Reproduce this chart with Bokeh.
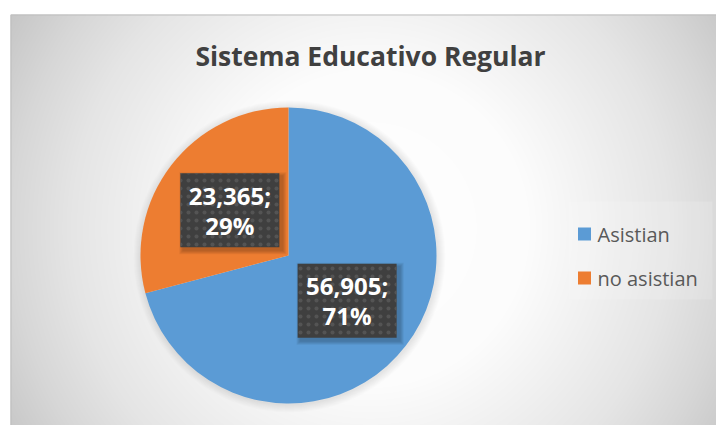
import numpy as np
from bokeh.plotting import figure
from bokeh.models import Range1d, ColumnDataSource
from bokeh.core.properties import value
from bokeh.embed import file_html
from bokeh.resources import INLINE

# ---- data ----
title_text = "Sistema Educativo Regular"
categories = ["Asistian", "no asistian"]
counts = [56905, 23365]
colors = ["#5B9BD5", "#ED7D31"]

W, H = 716, 425
p = figure(width=W, height=H, output_backend="svg", toolbar_location=None,
           x_range=Range1d(0, W), y_range=Range1d(0, H),
           min_border=0, background_fill_color="white", border_fill_color="white")
p.axis.visible = False
p.grid.visible = False
p.outline_line_color = None

def Y(page_y):
    return H - page_y

# ---- background radial gradient of chart area ----
x0, y0 = 10, 14
gw, gh = W - x0, H - y0
xs = np.arange(gw) + x0 + 0.5
ys = np.arange(gh) + y0 + 0.5
XX, YY = np.meshgrid(xs, ys)
d = np.hypot(XX - 370, YY - 228)
stops_d = [0, 160, 215, 300, 360, 420, 520]
stops_v = [255, 252, 243, 229, 215, 198, 188]
v = np.interp(d, stops_d, stops_v).astype(np.uint32)
img = (255 << 24) | (v << 16) | (v << 8) | v
img = img[::-1, :]  # row 0 = bottom
p.image_rgba(image=[img.view(np.uint32)], x=x0, y=0, dw=gw, dh=gh)
p.quad(left=x0 + 0.5, right=W + 40, top=Y(y0 + 0.5), bottom=-40,
       fill_color=None, line_color="#bdbdbd", line_width=1)

# ---- pie ----
cx, cy, R = 288, Y(255), 148
total = sum(counts)
fr = np.array(counts) / total
cum = np.concatenate([[0], np.cumsum(fr)])
starts = np.pi / 2 - 2 * np.pi * cum[:-1]
ends = np.pi / 2 - 2 * np.pi * cum[1:]

# soft halo
for k in range(1, 9):
    p.circle(x=cx + 1, y=cy - 1, radius=R + k, fill_color="black", fill_alpha=0.012,
             line_color=None)

src = ColumnDataSource(dict(start=starts, end=ends, color=colors, cat=categories))
p.wedge(x=cx, y=cy, radius=R, start_angle="start", end_angle="end",
        direction="clock", fill_color="color", line_color=None, source=src)

# ---- data labels ----
mids = (starts + ends) / 2
lx = cx + 0.5 * R * np.cos(mids)
ly = cy + 0.5 * R * np.sin(mids)
labels = [f"{c:,};\n{round(f * 100)}%" for c, f in zip(counts, fr)]
for s in range(1, 5):
    p.rect(x=lx + 3, y=ly - 3, width=99 + s * 2, height=74 + s * 2,
           width_units="screen", height_units="screen",
           fill_color="black", fill_alpha=0.06, line_color=None)
p.rect(x=lx, y=ly, width=99, height=74, width_units="screen", height_units="screen",
       fill_color="#3f3f3f", line_color=None,
       hatch_pattern="dot", hatch_color="#5c5c5c", hatch_alpha=0.7,
       hatch_scale=8, hatch_weight=1.5)
p.text(x=lx, y=ly, text=labels, text_align="center", text_baseline="middle",
       text_font=value("Open Sans"), text_font_style="bold", text_font_size="24px",
       text_color="white", text_line_height=0.92)

# ---- title ----
p.text(x=[370], y=[Y(55)], text=[title_text], text_align="center",
       text_baseline="middle", text_font=value("Open Sans"), text_font_style="bold",
       text_font_size="26.5px", text_color="#404040")

# ---- legend ----
p.quad(left=568, right=712, top=Y(201), bottom=Y(299), fill_color="white",
       fill_alpha=0.15, line_color=None)
leg_y = [Y(233.5 + 44 * i) for i in range(len(categories))]
p.rect(x=[584] * len(categories), y=leg_y, width=13, height=13,
       width_units="screen", height_units="screen", fill_color=colors, line_color=None)
p.text(x=[597] * len(categories), y=leg_y, text=categories, text_align="left",
       text_baseline="middle", text_font=value("Open Sans"), text_font_size="20px",
       text_color="#595959")

open("out.html", "w").write(file_html(p, INLINE))
